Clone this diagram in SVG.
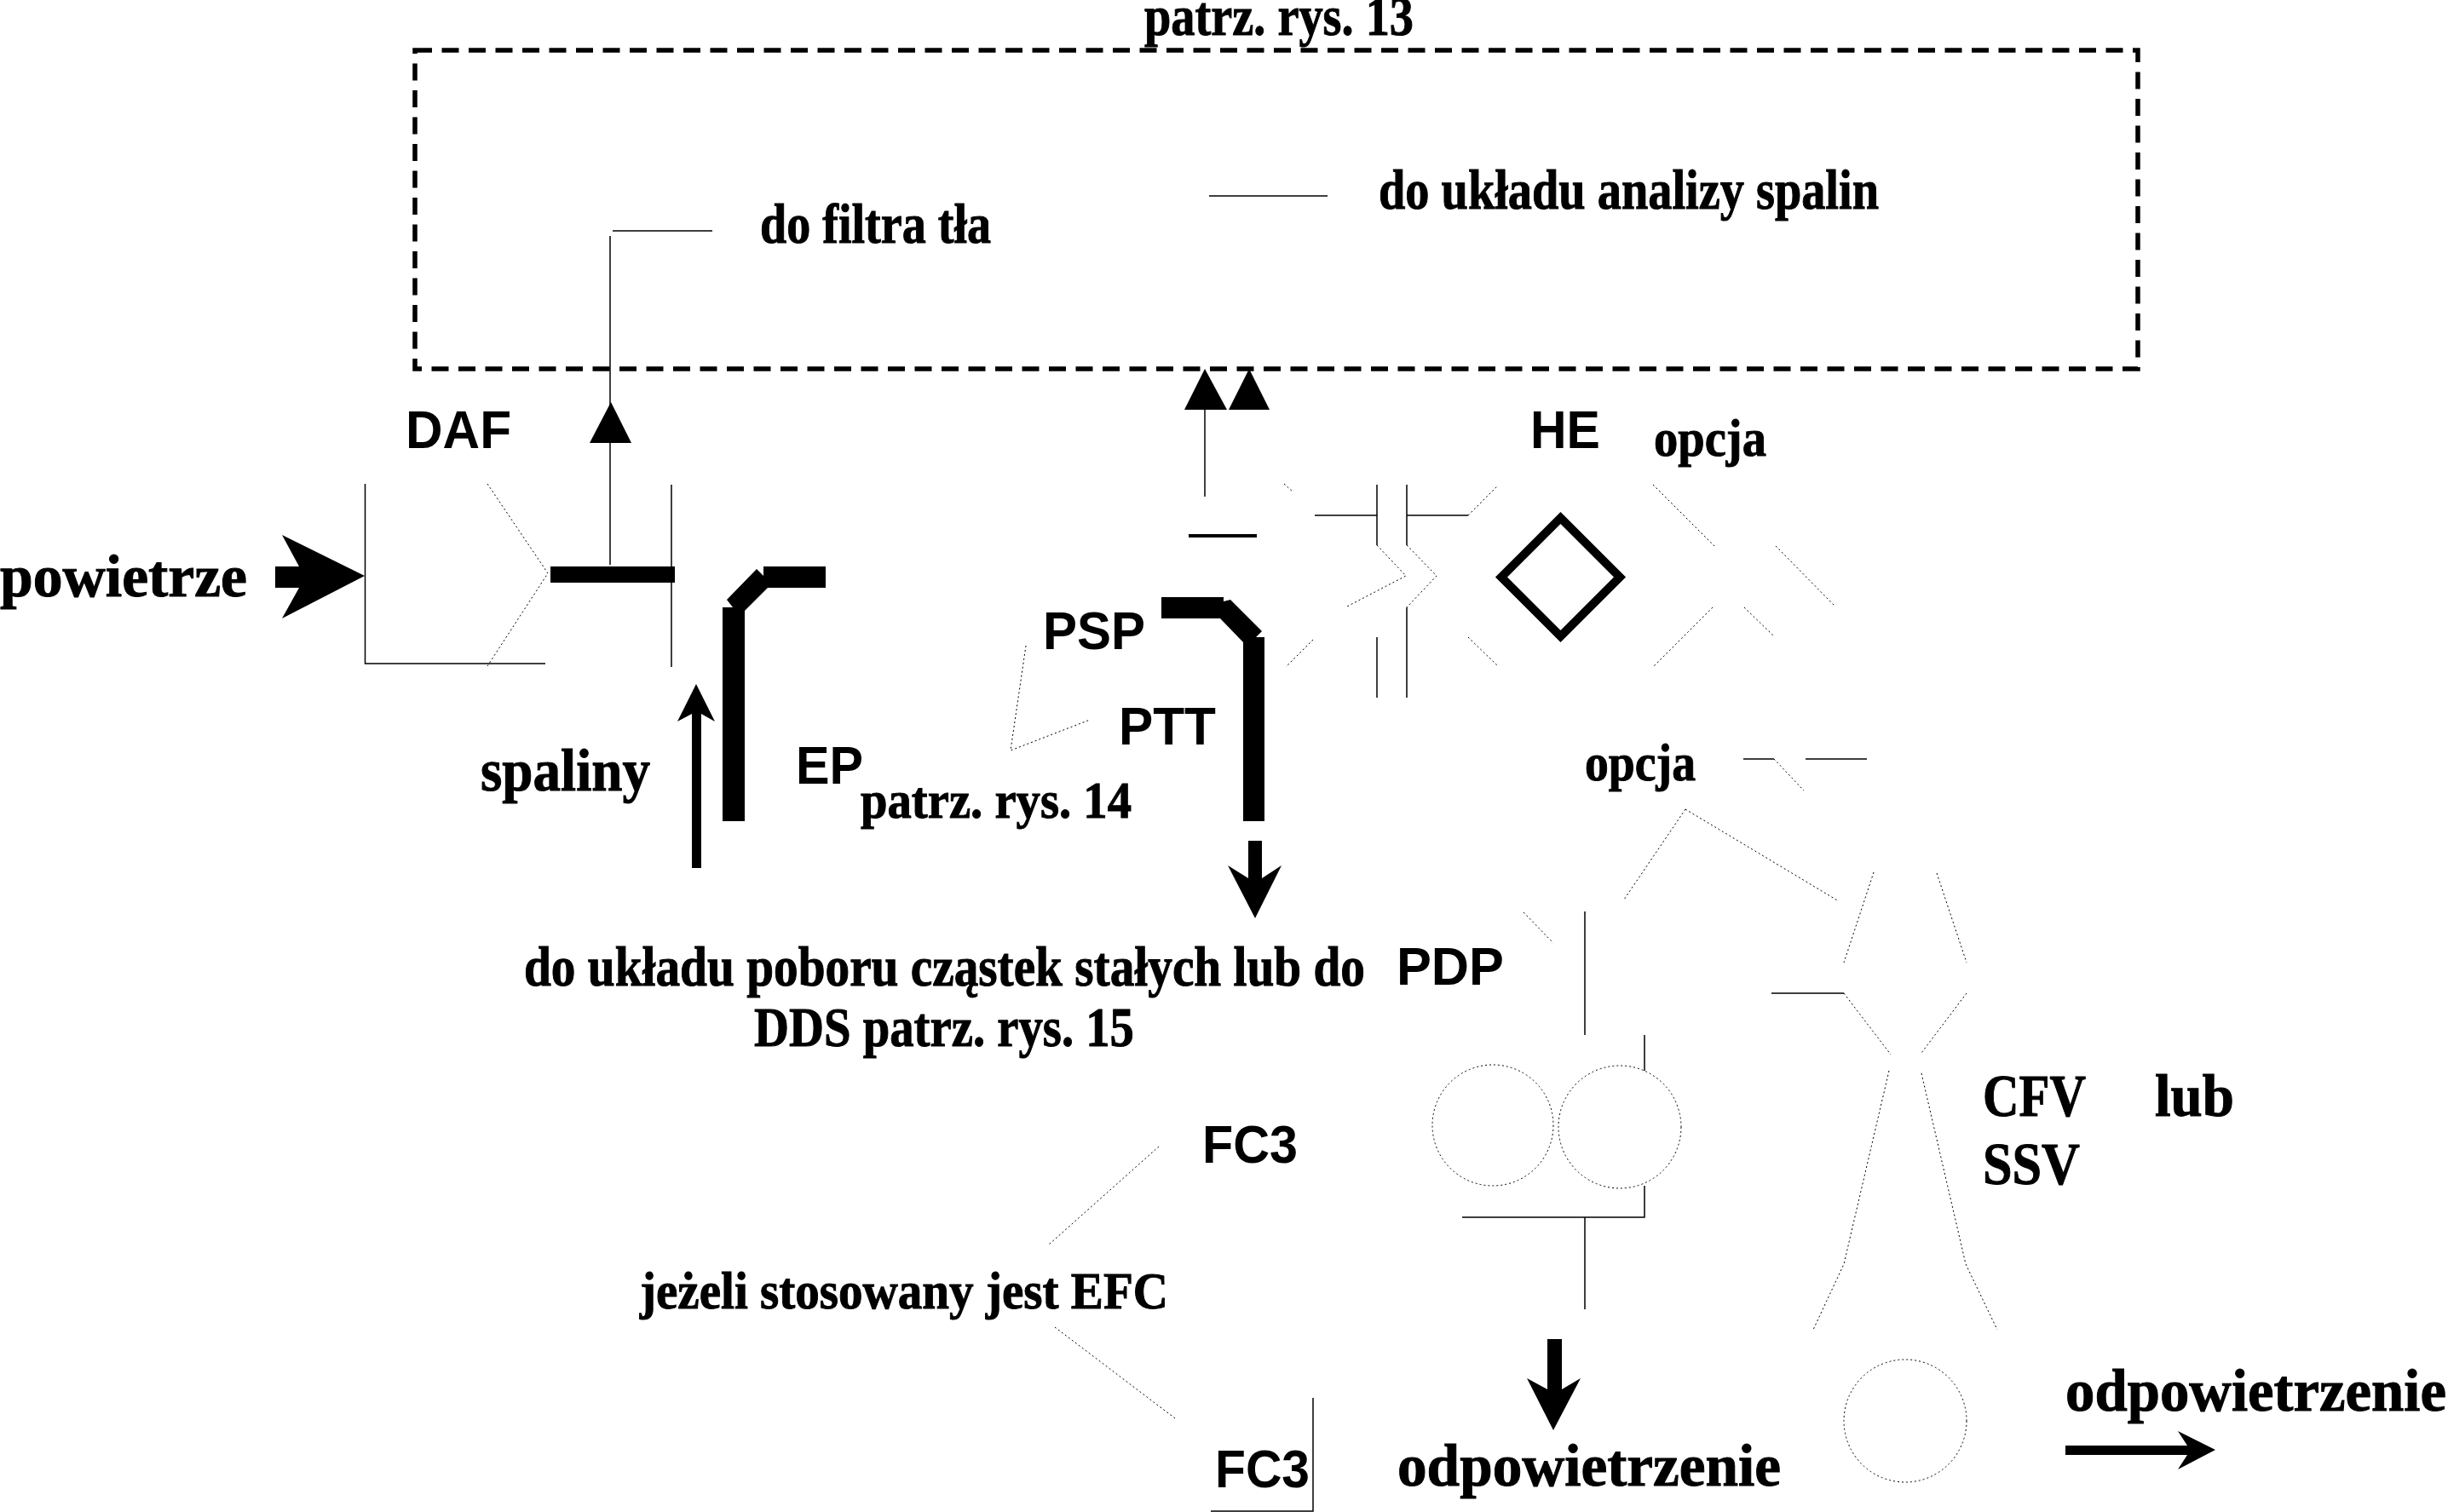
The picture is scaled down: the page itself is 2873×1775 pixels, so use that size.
<svg xmlns="http://www.w3.org/2000/svg" width="2873" height="1775" viewBox="0 0 2873 1775">
<style>
.s{font-family:"Liberation Serif","Times New Roman",serif;font-weight:bold;font-size:66px;fill:#000;stroke:#000;stroke-width:1}
.a{font-family:"Liberation Sans",Arial,sans-serif;font-weight:bold;font-size:63px;fill:#000}
.l{fill:none;stroke:#000;stroke-width:1.5}
.d{fill:none;stroke:#000;stroke-width:1;stroke-dasharray:2 3}
.b{fill:#000;stroke:none}
.frame{fill:none;stroke:#000;stroke-width:5.5;stroke-dasharray:20 11.5}
</style>
<rect width="2873" height="1775" fill="#fff"/>
<g id="connectors">
<path class="l" d="M716 277V663M719 271H836M1419 230H1558"/>
<path class="b" d="M717 472L741 520H692Z"/>
<path class="l" d="M1414 480V583"/>
<path class="b" d="M1414 433L1440 481H1390Z"/>
<path class="b" d="M1466 433L1490 481H1442Z"/>
<path class="b" d="M323 665H351L331 628L428 676L331 726L351 690H323Z"/>
<path class="b" d="M812 1019V838L795 847L817 803L839 847L823 838V1019Z"/>
<path class="b" d="M1465 987H1481V1031L1504 1016L1473 1078L1441 1016L1465 1031Z"/>
<path class="b" d="M1816 1572H1833V1631L1855 1618L1823 1679L1792 1618L1816 1631Z"/>
<path class="b" d="M2424 1697H2567L2556 1680L2600 1702L2556 1725L2567 1708H2424Z"/>
<path class="d" d="M1204 758L1186 881L1279 845"/>
<path class="d" d="M1360 1346L1231 1461M1238 1558L1379 1665"/>
</g>
<g id="frame-rys13">
<path class="frame" d="M487 59H2509V433H487Z"/>
<text class="s" x="1343" y="41" textLength="316" lengthAdjust="spacingAndGlyphs">patrz. rys. 13</text>
</g>
<g id="label-filtr"><text class="s" x="892" y="285" textLength="271" lengthAdjust="spacingAndGlyphs">do filtra tła</text></g>
<g id="label-analiza"><text class="s" x="1618" y="245" textLength="587" lengthAdjust="spacingAndGlyphs">do układu analizy spalin</text></g>
<g id="DAF">
<path class="l" d="M428.5 568V779H640M788 569V783"/>
<path class="d" d="M572 568L643 673L572 782"/>
<rect class="b" x="646" y="665" width="146" height="19"/>
<text class="a" x="476" y="526" textLength="124" lengthAdjust="spacingAndGlyphs">DAF</text>
</g>
<g id="powietrze"><text class="s" x="0" y="700" style="font-size:70px" textLength="290" lengthAdjust="spacingAndGlyphs">powietrze</text></g>
<g id="spaliny"><text class="s" x="564" y="928" style="font-size:70px" textLength="199" lengthAdjust="spacingAndGlyphs">spaliny</text></g>
<g id="EP">
<path class="b" d="M848 964V713H860L853 704L888 668L896 676V665H969V690H901L874 717V964Z"/>
<text class="a" x="934" y="920" textLength="79" lengthAdjust="spacingAndGlyphs">EP</text>
<text class="s" x="1010" y="960" style="font-size:62px" textLength="318" lengthAdjust="spacingAndGlyphs">patrz. rys. 14</text>
</g>
<g id="PSP">
<path class="b" d="M1363 701H1436V706L1444 704L1481 741L1474 748H1484V964H1459V754L1432 726H1363Z"/>
<rect class="b" x="1395" y="627" width="80" height="4"/>
<text class="a" x="1224" y="762" textLength="120" lengthAdjust="spacingAndGlyphs">PSP</text>
<text class="a" x="1313" y="874" textLength="114" lengthAdjust="spacingAndGlyphs">PTT</text>
</g>
<g id="HE">
<path class="l" d="M1543 605H1616M1651 605H1723M1616 569V640M1651 569V640M1651 713V819M1616 748V819"/>
<path class="d" d="M1507 568L1517 577M1723 605L1758 570M1616 640L1650 676L1579 713M1651 640L1686 676L1651 713M1541 751L1509 783M1723 748L1758 782"/>
<path d="M1831.5 608L1901 677.5L1831.5 747L1762 677.5Z" fill="none" stroke="#000" stroke-width="10"/>
<text class="a" x="1796" y="526" textLength="82" lengthAdjust="spacingAndGlyphs">HE</text>
</g>
<g id="opcja-1">
<path class="d" d="M1940 569L2012 641M2084 641L2153 711M2010 713L1940 783M2047 713L2082 747"/>
<text class="s" x="1941" y="535" style="font-size:62px" textLength="132" lengthAdjust="spacingAndGlyphs">opcja</text>
</g>
<g id="opcja-2">
<path class="l" d="M2046 891H2082M2119 891H2191"/>
<path class="d" d="M2082 891L2117 928M1978 950L1906 1056M1978 950L2158 1058"/>
<text class="s" x="1860" y="916" style="font-size:62px" textLength="130" lengthAdjust="spacingAndGlyphs">opcja</text>
</g>
<g id="label-pobor">
<text class="s" x="615" y="1157" textLength="987" lengthAdjust="spacingAndGlyphs">do układu poboru cząstek stałych lub do</text>
<text class="s" x="885" y="1228" textLength="446" lengthAdjust="spacingAndGlyphs">DDS patrz. rys. 15</text>
</g>
<g id="PDP">
<path class="l" d="M1860 1070V1215M1930 1215V1257M1930 1392V1429H1716M1860 1429V1537"/>
<path class="d" d="M1788 1071L1823 1107"/>
<circle class="d" cx="1752" cy="1321" r="71"/>
<circle class="d" cx="1901" cy="1323" r="72"/>
<text class="a" x="1639" y="1156" textLength="126" lengthAdjust="spacingAndGlyphs">PDP</text>
</g>
<g id="CFV">
<path class="l" d="M2079 1166H2164"/>
<path class="d" d="M2199 1024L2164 1130M2273 1025L2308 1130M2164 1166L2219 1238M2308 1166L2255 1236M2217 1257L2164 1484L2128 1561M2255 1260L2307 1484L2344 1561"/>
<circle class="d" cx="2236" cy="1668" r="72"/>
<text class="s" x="2327" y="1310" style="font-size:70px" textLength="121" lengthAdjust="spacingAndGlyphs">CFV</text>
<text class="s" x="2529" y="1310" style="font-size:70px" textLength="93" lengthAdjust="spacingAndGlyphs">lub</text>
<text class="s" x="2327" y="1390" style="font-size:70px" textLength="114" lengthAdjust="spacingAndGlyphs">SSV</text>
</g>
<g id="FC3-1"><text class="a" x="1411" y="1365" textLength="112" lengthAdjust="spacingAndGlyphs">FC3</text></g>
<g id="label-efc"><text class="s" x="751" y="1536" style="font-size:62px" textLength="620" lengthAdjust="spacingAndGlyphs">jeżeli stosowany jest EFC</text></g>
<g id="FC3-2">
<path class="l" d="M1541 1641V1774H1421"/>
<text class="a" x="1426" y="1746" textLength="111" lengthAdjust="spacingAndGlyphs">FC3</text>
</g>
<g id="odpowietrzenie-1"><text class="s" x="1640" y="1744" style="font-size:70px" textLength="450" lengthAdjust="spacingAndGlyphs">odpowietrzenie</text></g>
<g id="odpowietrzenie-2"><text class="s" x="2424" y="1656" style="font-size:70px" textLength="447" lengthAdjust="spacingAndGlyphs">odpowietrzenie</text></g>
</svg>
